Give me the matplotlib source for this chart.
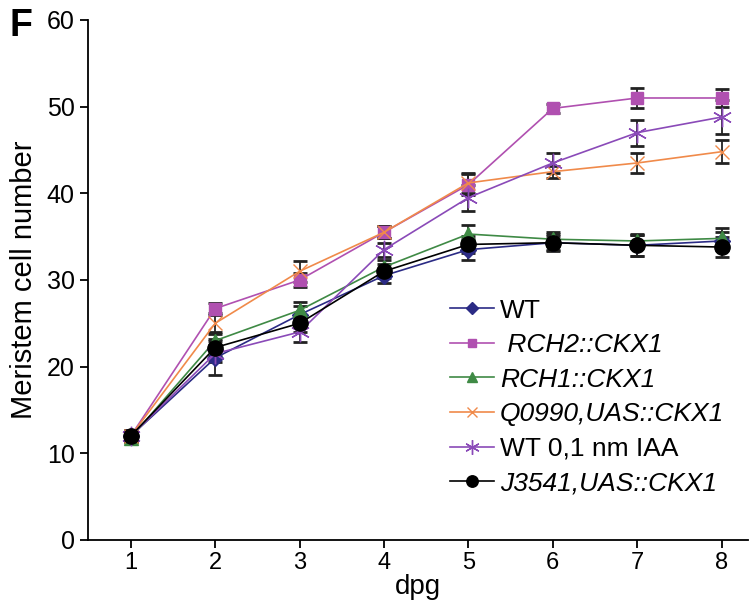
import matplotlib
matplotlib.use("Agg")
import matplotlib.pyplot as plt
from matplotlib.lines import Line2D

dpg = [1, 2, 3, 4, 5, 6, 7, 8]

labels = ["WT", " RCH2::CKX1", "RCH1::CKX1", "Q0990,UAS::CKX1",
          "WT 0,1 nm IAA", "J3541,UAS::CKX1"]

wt        = [12.0, 21.0, 26.0, 30.5, 33.5, 34.3, 34.0, 34.5]
rch2      = [12.0, 26.7, 30.0, 35.5, 41.0, 49.8, 51.0, 51.0]
rch1      = [11.8, 23.0, 26.5, 31.5, 35.3, 34.7, 34.5, 34.8]
q0990     = [12.0, 25.0, 31.0, 35.5, 41.2, 42.5, 43.5, 44.8]
wt_iaa    = [12.0, 21.5, 24.0, 33.5, 39.5, 43.5, 47.0, 48.8]
j3541     = [12.0, 22.2, 25.0, 31.0, 34.1, 34.3, 34.0, 33.8]

wt_err     = [0.7, 2.0, 1.0, 0.8, 1.2, 0.8, 1.2, 1.0]
rch2_err   = [0.5, 0.7, 0.8, 0.7, 1.2, 0.5, 1.2, 1.0]
rch1_err   = [0.5, 1.0, 1.0, 0.8, 1.0, 0.8, 0.8, 1.2]
q0990_err  = [0.5, 1.2, 1.2, 0.7, 1.2, 0.7, 1.2, 1.3]
wt_iaa_err = [0.5, 1.0, 1.2, 0.8, 1.5, 1.2, 1.5, 2.0]
j3541_err  = [0.7, 1.0, 1.0, 0.8, 1.0, 1.0, 1.2, 1.2]

series = [
    (wt, wt_err, "#2b2b85", "D", 8),
    (rch2, rch2_err, "#b050b0", "s", 8),
    (rch1, rch1_err, "#3f8a45", "^", 10),
    (q0990, q0990_err, "#f08a4a", "x", 10),
    (wt_iaa, wt_iaa_err, "#8a4ab8", (6, 2, 0), 14),
    (j3541, j3541_err, "black", "o", 11),
]

plt.rcParams["font.family"] = ["Liberation Sans", "DejaVu Sans"]

fig = plt.figure(figsize=(7.5, 6.06), dpi=100)
ax = fig.add_axes([0.117, 0.109, 0.88, 0.858])

handles = []
for (y, err, col, mk, ms), lab in zip(series, labels):
    ax.errorbar(dpg, y, yerr=err, color=col, marker=mk, markersize=ms,
                markeredgecolor=col, linewidth=1.2, ecolor="#222222",
                elinewidth=1.3, capsize=5, capthick=2, zorder=3)
    handles.append(Line2D([], [], color=col, marker=mk, markersize=ms * 0.75,
                          markeredgecolor=col, linewidth=1.2, label=lab))

ax.set_xlim(0.49, 8.31)
ax.set_ylim(0, 60)
ax.set_xticks(dpg)
ax.set_yticks([0, 10, 20, 30, 40, 50, 60])
ax.spines["top"].set_visible(False)
ax.spines["right"].set_visible(False)
ax.spines["left"].set_linewidth(1.3)
ax.spines["bottom"].set_linewidth(1.3)
ax.tick_params(axis="y", length=6, width=1.3, labelsize=18)
ax.tick_params(axis="x", length=6, width=1.3, labelsize=17, pad=3)

ax.set_xlabel("dpg", fontsize=20, labelpad=0)
ax.set_ylabel("Meristem cell number", fontsize=21, labelpad=6)
fig.text(0.012, 0.94, "F", fontsize=27, fontweight="bold")

leg = ax.legend(handles=handles, loc="lower right", bbox_to_anchor=(1.0, 0.04),
                frameon=False, fontsize=19, handlelength=1.7, handletextpad=0.2,
                labelspacing=0.4)
for i, t in enumerate(leg.get_texts()):
    if i not in (0, 4):
        t.set_style("italic")

fig.savefig("out.png", dpi=100)
